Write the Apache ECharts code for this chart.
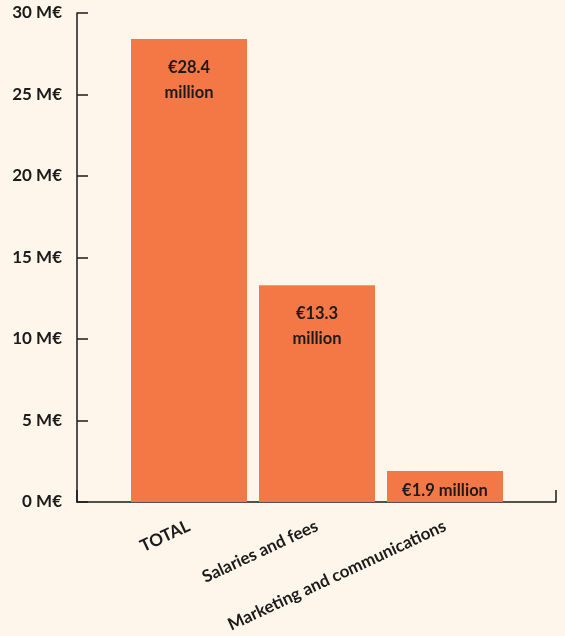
<!DOCTYPE html>
<html>
<head>
<meta charset="utf-8">
<script src="https://cdn.jsdelivr.net/npm/echarts@6/dist/echarts.min.js"></script>
<style>
  html, body { margin: 0; padding: 0; background: #FEF6EA; }
  #chart { width: 565px; height: 636px; }
</style>
</head>
<body>
<div id="chart"></div>
<script>
// Budget breakdown, in millions of euros
const categories = ['TOTAL', 'Salaries and fees', 'Marketing and communications'];
const values = [28.4, 13.3, 1.9];
const valueLabels = ['€28.4\nmillion', '€13.3\nmillion', '€1.9 million'];
const yTicks = [0, 5, 10, 15, 20, 25, 30];

const ink = '#1b1b1b';
const barColor = '#F47846';
const font = 'Lato, "Noto Sans", sans-serif';

const chart = echarts.init(document.getElementById('chart'));

const barData = values.map((v, i) => {
  const item = { value: v };
  if (i === values.length - 1) {
    item.label = { position: 'insideBottom', distance: 2, lineHeight: 18 };
  }
  return item;
});

chart.setOption({
  backgroundColor: '#FEF6EA',
  animation: false,
  grid: [
    // frame grid: carries the visible axes
    { left: 77, right: 9, top: 13, bottom: 134 },
    // bar grid: narrower band for the category columns
    { left: 125, width: 384, top: 13, bottom: 134 }
  ],
  xAxis: [
    {
      gridIndex: 0, type: 'value', min: 0, max: 1, interval: 1,
      axisLine: { show: true, lineStyle: { color: ink, width: 1.5 } },
      axisTick: { show: true, inside: true, length: 12, lineStyle: { color: ink, width: 1.5 } },
      axisLabel: { show: false },
      splitLine: { show: false }
    },
    {
      gridIndex: 1, type: 'category', data: categories,
      axisLine: { show: false },
      axisTick: { show: false },
      axisLabel: {
        rotate: 25, margin: 23, interval: 0,
        color: ink, fontFamily: font, fontSize: 17, fontWeight: 'bold'
      }
    }
  ],
  yAxis: [
    {
      gridIndex: 0, type: 'value', min: 0, max: 30, interval: 5,
      axisLine: { show: true, lineStyle: { color: ink, width: 1.5 } },
      axisTick: { show: true, inside: true, length: 11, lineStyle: { color: ink, width: 1.5 } },
      axisLabel: {
        margin: 15, color: ink, fontFamily: font, fontSize: 17, fontWeight: 'bold',
        formatter: v => (yTicks.includes(v) ? v + ' M€' : '')
      },
      splitLine: { show: false }
    },
    {
      gridIndex: 1, type: 'value', min: 0, max: 30, interval: 5,
      show: false
    }
  ],
  series: [
    {
      type: 'bar',
      xAxisIndex: 1, yAxisIndex: 1,
      data: barData,
      barWidth: 116,
      itemStyle: { color: barColor },
      label: {
        show: true,
        position: 'insideTop',
        distance: 16,
        color: ink,
        fontFamily: font,
        fontSize: 16.5,
        fontWeight: 'bold',
        lineHeight: 25,
        formatter: p => valueLabels[p.dataIndex]
      }
    }
  ]
});
</script>
</body>
</html>
